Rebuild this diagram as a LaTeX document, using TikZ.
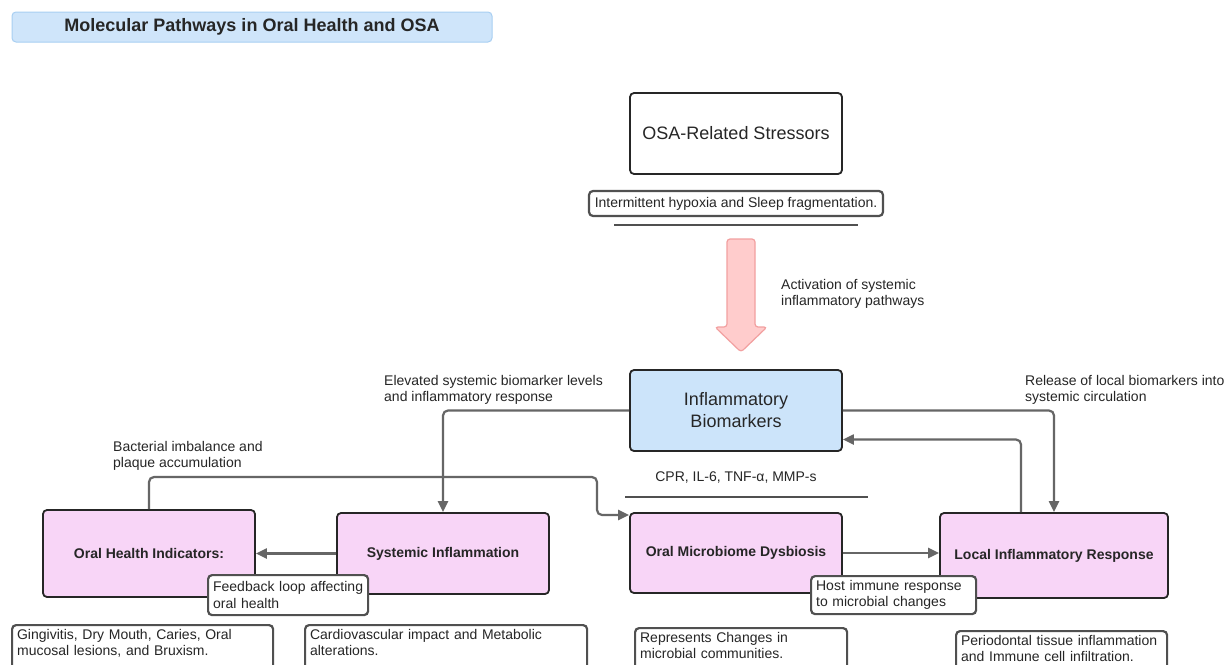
\documentclass[tikz,border=0pt]{standalone}
\usepackage{fontspec}
\setmainfont{Liberation Sans}
\usetikzlibrary{arrows.meta}

\definecolor{titleblue}{HTML}{CFE5FA}
\definecolor{titleedge}{HTML}{A8CFF2}
\definecolor{bioblue}{HTML}{CCE4FA}
\definecolor{pathpink}{HTML}{F8D5F7}
\definecolor{arrowpink}{HTML}{FFCCCC}
\definecolor{arrowedge}{HTML}{F2A0A0}
\definecolor{linegray}{HTML}{666666}
\definecolor{notegray}{HTML}{505050}
\definecolor{inkgray}{HTML}{262626}

\begin{document}
\begin{tikzpicture}[x=1pt, y=-1pt, >={Triangle[length=11pt,width=10pt]},
    every node/.style={text=inkgray},
    bigbox/.style={draw=inkgray, line width=1.8pt, rounded corners=4pt, minimum width=212pt, minimum height=81pt, inner sep=0pt, align=center, font=\fontsize{18}{22}\selectfont},
    pathbox/.style={draw=inkgray, line width=1.8pt, rounded corners=4pt, fill=pathpink, minimum width=212pt, inner sep=0pt, font=\bfseries\fontsize{14}{17}\selectfont},
    notebox/.style={draw=notegray, line width=2.2pt, rounded corners=4pt, fill=white, align=left, anchor=north west, inner xsep=5pt, inner ysep=4pt, font=\fontsize{14}{16.5}\selectfont},
    edgetext/.style={inner sep=0pt, align=left, font=\fontsize{14}{16.5}\selectfont},
    conn/.style={draw=linegray, line width=2.2pt, rounded corners=5pt},
    rulerline/.style={draw=notegray, line width=2.2pt}]

    \clip (0,0) rectangle (1226,664);
    \fill[white] (0,0) rectangle (1226,664);

    % Title
    \node[draw=titleedge, fill=titleblue, line width=1pt, rounded corners=4pt, minimum width=480pt, minimum height=30pt, inner sep=0pt, font=\bfseries\fontsize{18}{22}\selectfont] (title) at (252,27) {Molecular Pathways in Oral Health and OSA};

    % Stressors
    \node[bigbox] (osa) at (736,133.5) {OSA-Related Stressors};
    \node[notebox, anchor=center, align=center, minimum width=294pt, minimum height=25pt, inner sep=0pt] (hypox) at (736,203.5) {Intermittent hypoxia and Sleep fragmentation.};
    \draw[rulerline] (614,225) -- (858,225);

    % Big arrow
    \draw[fill=arrowpink, draw=arrowedge, line width=1.2pt, rounded corners=3pt] (727,239) -- (755,239) -- (755,327) -- (767,327) -- (741,352) -- (715,327) -- (727,327) -- cycle;
    \node[edgetext, anchor=north west] (actText) at (781,279) {Activation of systemic\\inflammatory pathways};

    % Biomarkers
    \node[bigbox, fill=bioblue] (bio) at (736,410.5) {Inflammatory\\Biomarkers};
    \node[edgetext] (cprText) at (736,478) {CPR, IL-6, TNF-α, MMP-s};
    \draw[rulerline] (625,497) -- (868,497);

    \node[edgetext, anchor=north west] (elevText) at (384,375) {Elevated systemic biomarker levels\\and inflammatory response};
    \node[edgetext, anchor=north west] (relText) at (1025,375) {Release of local biomarkers into\\systemic circulation};
    \node[edgetext, anchor=north west] (bactText) at (113,441) {Bacterial imbalance and\\plaque accumulation};

    % Pathway boxes
    \node[pathbox, minimum height=87pt] (oral) at (149,553.5) {Oral Health Indicators:};
    \node[pathbox, minimum height=81pt] (sysinf) at (443,553.5) {Systemic Inflammation};
    \node[pathbox, minimum height=80pt] (dysb) at (736,553) {Oral Microbiome Dysbiosis};
    \node[pathbox, minimum width=228pt, minimum height=85pt] (local) at (1054,555.5) {Local Inflammatory Response};

    % Connectors
    \coordinate (plaqueTurn) at (597,477);
    \draw[conn, ->] (bio.west) -| (sysinf.north);
    \draw[conn, ->] (bio.east) -| (local.north);
    \draw[conn, ->] ([xshift=-33pt]local.north) |- ([yshift=-29pt]bio.east);
    \draw[conn, ->] (sysinf.west) -- (oral.east);
    \draw[conn, ->] (dysb.east) -- (dysb.east -| local.west);
    \draw[conn, ->] (oral.north) |- (plaqueTurn) |- ([yshift=38pt]dysb.west);

    % Notes
    \node[notebox, text width=150pt, minimum height=40pt] (feedNote) at (207,574) {Feedback loop affecting\\oral health};
    \node[notebox, text width=155pt, minimum height=38pt] (hostNote) at (810,575) {Host immune response\\to microbial changes};

    \node[notebox, text width=251pt] (gingNote) at (11,624) {Gingivitis, Dry Mouth, Caries, Oral\\mucosal lesions, and Bruxism.\\\rule{0pt}{20pt}};
    \node[notebox, text width=272pt] (cardNote) at (304,624) {Cardiovascular impact and Metabolic\\alterations.\\\rule{0pt}{20pt}};
    \node[notebox, text width=202pt] (microNote) at (634,627) {Represents Changes in\\microbial communities.\\\rule{0pt}{20pt}};
    \node[notebox, text width=201pt] (perioNote) at (955,630) {Periodontal tissue inflammation\\and Immune cell infiltration.\\\rule{0pt}{20pt}};

\end{tikzpicture}
\end{document}
